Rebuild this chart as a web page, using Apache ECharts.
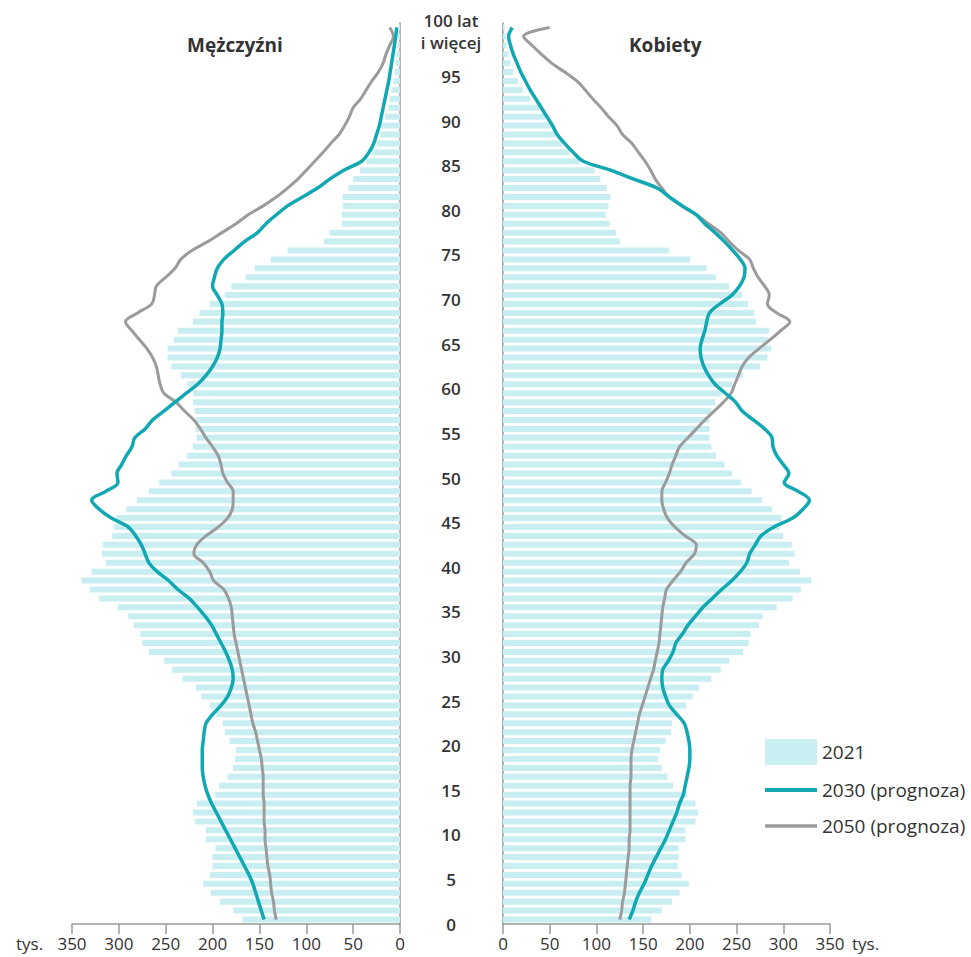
<!DOCTYPE html>
<html>
<head>
<meta charset="utf-8">
<script src="https://cdn.jsdelivr.net/npm/echarts@6/dist/echarts.min.js"></script>
<style>
  html, body { margin: 0; padding: 0; background: #fff; }
  #chart { width: 971px; height: 957px; }
</style>
</head>
<body>
<div id="chart"></div>
<script>
// ages 0 .. 100 (100 = "100 lat i więcej")
var ages = [];
for (var a = 0; a <= 100; a++) ages.push(a);

// thousands of people, per single year of age
var men2021 = [168,178,192,202,210,203,200,200,197,207, 207,219,221,217,197,193,184,178,176,175,
  182,187,189,196,203,212,218,232,243,252, 268,275,277,284,290,301,321,331,340,329,
  314,318,317,307,305,303,292,281,268,257, 244,236,227,221,217,218,218,219,221,221,
  227,234,244,248,248,241,237,221,214,203, 187,180,165,155,138,120,81,75,62,62,
  61,61,55,50,43,36,30,25,21,20, 16,12.5,11,9,7,5.5,4.5,3.5,2.5,2, 1.5];
var men2030 = [145,148,151,154,157,161,166,171,176,181, 186,191,196,201,205,208,210,211,211,211,
  210,209,207,200,191,184,180,178,179,182, 186,191,196,201,208,216,225,237,247,259,
  268,272,276,282,290,308,321,329,314,301, 302,297,292,286,283,272,264,252,240,228,
  216,207,200,195,192,191,190,190,189,190, 195,200,198,195,188,177,166,152,143,132,
  120,104,88,75,60,41,33,28,25,22, 20,18,16,14,12,10.5,9,7.5,6,4.5, 3.5];
var men2050 = [132,134,135,137,138,139,141,142,143,144, 144,145,145,145,146,146,146,147,148,150,
  152,154,157,159,161,163,165,167,169,171, 173,175,177,178,179,180,183,188,199,203,
  210,220,217,207,194,184,179,178,178,184, 189,191,194,200,207,213,220,230,239,252,
  256,258,260,264,270,278,286,293,280,265, 262,260,250,240,234,222,205,190,175,162,
  146,132,120,109,100,91,82,74,65,59, 54,50,42,36,30,23,18,15,11,7, 11];

var women2021 = [159,170,181,189,199,191,187,188,188,195, 195,206,209,206,197,182,176,170,166,168,
  174,180,181,187,196,203,210,223,233,242, 257,263,265,274,278,293,310,319,330,318,
  306,312,309,300,296,298,288,277,266,255, 245,237,228,223,221,221,221,223,227,234,
  245,257,275,283,287,284,285,271,269,262, 256,242,228,218,200,178,125,121,114,110,
  113,115,111,104,98,82,71,64,57,52, 46,39,29,21,16,11,8,6,4,3, 2];
var women2030 = [135,139,142,146,151,155,159,164,169,174, 178,182,186,189,193,195,197,199,200,200,
  199,197,194,186,178,174,171,170,171,177, 182,185,192,198,206,214,224,234,245,254,
  261,264,270,276,290,310,321,328,316,301, 306,300,293,289,288,280,268,256,249,238,
  227,220,215,212,211,213,216,218,221,232, 245,253,258,259,254,246,237,227,216,207,
  192,178,165,140,115,86,75,66,58,53, 47,41,35,29,24,19,15,11,8,6, 10];
var women2050 = [125,127,128,130,131,132,133,134,135,135, 136,136,136,136,136,136,137,137,137,138,
  140,142,144,146,149,152,155,158,161,163, 165,167,168,169,170,171,173,175,182,190,
  196,205,207,195,184,176,172,170,170,174, 178,181,185,189,198,207,216,226,236,244,
  248,252,256,263,274,286,297,307,293,283, 285,280,273,268,264,252,242,233,220,207,
  191,178,170,163,158,152,145,138,128,122, 113,105,96,88,79,66,52,41,31,22, 50];

var xTicks = [0, 50, 100, 150, 200, 250, 300, 350];
var seriesNames = ['2021', '2030 (prognoza)', '2050 (prognoza)'];

var barColor = '#c8eef1';
var tealColor = '#12a8b3';
var greyColor = '#9b9b9b';
var textColor = '#333';
var axisColor = '#9a9a9a';
var font = '"Open Sans", "Noto Sans", sans-serif';

function pairs(values) {
  return values.map(function (v, i) { return [v, i]; });
}

function xAxisFor(gridIndex, inverse) {
  return {
    gridIndex: gridIndex,
    type: 'value',
    min: xTicks[0],
    max: xTicks[xTicks.length - 1],
    interval: 50,
    inverse: inverse,
    axisLine: { show: true, lineStyle: { color: axisColor, width: 1.5 } },
    axisTick: { show: true, length: 10, lineStyle: { color: axisColor, width: 1.5 } },
    axisLabel: { color: textColor, fontSize: 17, fontFamily: font, margin: 11 },
    splitLine: { show: false }
  };
}

function lineSeries(name, values, idx, color, width) {
  return {
    name: name,
    type: 'line',
    xAxisIndex: idx,
    yAxisIndex: idx,
    data: pairs(values),
    smooth: 0.35,
    symbol: 'none',
    color: color,
    lineStyle: { color: color, width: width },
    z: 3
  };
}

function barSeries(values, idx) {
  return {
    name: seriesNames[0],
    type: 'bar',
    xAxisIndex: idx,
    yAxisIndex: idx,
    data: values,
    barWidth: 6,
    color: barColor,
    itemStyle: { color: barColor },
    silent: true,
    z: 1
  };
}

var el = document.getElementById('chart');
var chart = echarts.init(el, null, { renderer: 'svg' });

var ageLabelStyle = {
  color: textColor, fontSize: 17, fontWeight: 600, fontFamily: font,
  lineHeight: 22, padding: [9, 0, 0, 0]
};

var option = {
  animation: false,
  backgroundColor: '#fff',
  textStyle: { fontFamily: font },
  grid: [
    { left: 72, width: 328, top: 23, height: 901 },
    { left: 503, width: 327, top: 23, height: 901 }
  ],
  xAxis: [xAxisFor(0, true), xAxisFor(1, false)],
  yAxis: [
    {
      gridIndex: 0, type: 'category', data: ages, position: 'right',
      axisLine: { show: true, lineStyle: { color: axisColor, width: 1.5 } },
      axisTick: { show: false }, axisLabel: { show: false }
    },
    {
      gridIndex: 1, type: 'category', data: ages, position: 'left',
      axisLine: { show: true, lineStyle: { color: axisColor, width: 1.5 } },
      axisTick: { show: false },
      axisLabel: {
        interval: function (i) { return i % 5 === 0; },
        formatter: function (v) {
          return v == 100 ? '{a|100 lat}\n{a|i więcej}' : '{a|' + v + '}';
        },
        rich: { a: ageLabelStyle },
        align: 'center',
        margin: 52,
        color: textColor,
        fontSize: 17,
        fontWeight: 600,
        fontFamily: font
      }
    }
  ],
  legend: [
    {
      data: [seriesNames[0]], left: 765, top: 739, padding: 0, icon: 'rect',
      itemWidth: 52, itemHeight: 26,
      textStyle: { color: textColor, fontSize: 19, fontFamily: font }
    },
    {
      data: [seriesNames[1]], left: 765, top: 779, padding: 0, icon: 'rect',
      itemWidth: 52, itemHeight: 4,
      textStyle: { color: textColor, fontSize: 19, fontFamily: font, lineHeight: 22 }
    },
    {
      data: [seriesNames[2]], left: 765, top: 815, padding: 0, icon: 'rect',
      itemWidth: 52, itemHeight: 3.5,
      textStyle: { color: textColor, fontSize: 19, fontFamily: font, lineHeight: 22 }
    }
  ],
  graphic: [
    { type: 'text', left: 187, top: 35, style: { text: 'Mężczyźni', fill: textColor, font: 'bold 19px ' + font } },
    { type: 'text', left: 629, top: 35, style: { text: 'Kobiety', fill: textColor, font: 'bold 19px ' + font } },
    { type: 'text', left: 16, top: 935, style: { text: 'tys.', fill: textColor, font: '17px ' + font } },
    { type: 'text', left: 852, top: 935, style: { text: 'tys.', fill: textColor, font: '17px ' + font } }
  ],
  series: [
    barSeries(men2021, 0),
    barSeries(women2021, 1),
    lineSeries(seriesNames[2], men2050, 0, greyColor, 3),
    lineSeries(seriesNames[2], women2050, 1, greyColor, 3),
    lineSeries(seriesNames[1], men2030, 0, tealColor, 3.5),
    lineSeries(seriesNames[1], women2030, 1, tealColor, 3.5)
  ]
};

chart.setOption(option);

window.addEventListener('resize', function () {
  chart.resize();
});
</script>
</body>
</html>
